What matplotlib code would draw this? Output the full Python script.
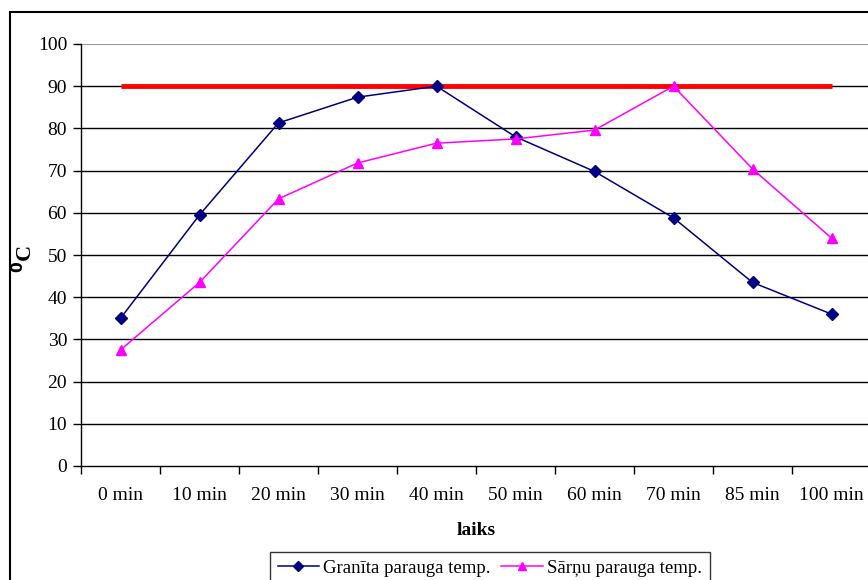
import matplotlib
matplotlib.use("Agg")
import matplotlib.pyplot as plt
from matplotlib.patches import Rectangle
from matplotlib.lines import Line2D
import numpy as np

categories = ["0 min", "10 min", "20 min", "30 min", "40 min", "50 min",
              "60 min", "70 min", "85 min", "100 min"]
granite = [35, 59.5, 81.3, 87.4, 90, 78, 69.8, 58.8, 43.5, 36]
saru = [27.5, 43.5, 63.3, 71.8, 76.5, 77.5, 79.6, 90, 70.4, 54]
limit = [90] * len(categories)

plt.rcParams['font.family'] = ['Liberation Serif', 'DejaVu Serif']

fig = plt.figure(figsize=(8.68, 5.8), dpi=100)
W, H = 868, 580
ax = fig.add_axes([81 / W, 1 - 466 / H, 790 / W, 422 / H])

x = np.arange(len(categories))
ax.set_xlim(-0.5, len(categories) - 0.5)
ax.set_ylim(0, 100)

for yv in range(10, 100, 10):
    ax.axhline(yv, color='black', lw=1.0, zorder=1)
ax.axhline(100, color='#999999', lw=1.5, zorder=1)

ax.plot(x, limit, color='#ff0000', lw=3.5, zorder=2, solid_capstyle='butt')
ax.plot(x, granite, color='#000080', lw=1.1, marker='D', markersize=6,
        markerfacecolor='#000080', markeredgecolor='#000080', zorder=3)
ax.plot(x, saru, color='#ff00ff', lw=1.1, marker='^', markersize=7,
        markerfacecolor='#ff00ff', markeredgecolor='#ff00ff', zorder=3)

for s in ['top', 'right']:
    ax.spines[s].set_visible(False)
ax.spines['left'].set_color('black')
ax.spines['bottom'].set_color('black')
ax.spines['left'].set_linewidth(1.0)
ax.spines['bottom'].set_linewidth(1.0)

ax.set_yticks(range(0, 101, 10))
ax.set_yticklabels([str(v) for v in range(0, 101, 10)], fontsize=14)
ax.tick_params(axis='y', direction='out', length=6, width=1, pad=4)

ax.set_xticks(x)
ax.set_xticklabels(categories, fontsize=14)
ax.set_xticks(np.arange(-0.5, len(categories), 1.0), minor=True)
ax.tick_params(axis='x', which='major', length=0, pad=15)
ax.tick_params(axis='x', which='minor', direction='out', length=6, width=1)

ax.set_xlabel('laiks', fontsize=14, fontweight='bold', labelpad=13)
ax.set_ylabel(r'$^{\mathbf{0}}$C', fontsize=16, fontweight='bold')
ax.yaxis.set_label_coords(-0.056, 0.49)

h1 = Line2D([], [], color='#000080', lw=1.1, marker='D', markersize=5)
h2 = Line2D([], [], color='#ff00ff', lw=1.1, marker='^', markersize=6)
leg = fig.legend([h1, h2], ['Granīta parauga temp.', 'Sārņu parauga temp.'],
                 loc='upper left', bbox_to_anchor=(270 / W, 1 - 552 / H),
                 ncol=2, fontsize=13.5, frameon=True, fancybox=False,
                 edgecolor='black', handlelength=2.2, columnspacing=0.55,
                 handletextpad=0.25, borderpad=0.4, borderaxespad=0)
leg.get_frame().set_linewidth(1.0)

fig.patches.append(Rectangle((10 / W, -0.1), 1.2, 1 - 12 / H + 0.1,
                             transform=fig.transFigure, fill=False,
                             edgecolor='black', lw=1.5, zorder=0))

fig.savefig('out.png', dpi=100)
